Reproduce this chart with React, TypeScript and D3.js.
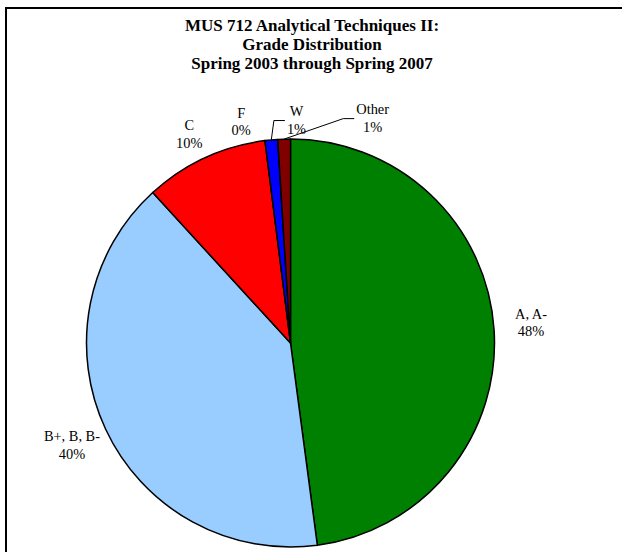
import React, { useEffect, useRef } from "react";
import * as d3 from "d3";

// grade categories and share of students (percent)
const categories = ["A, A-", "B+, B, B-", "C", "F", "W", "Other"];
const shares = [47.9, 40.3, 9.8, 0, 1.0, 1.0];
const colors = ["#008000", "#99ccff", "#ff0000", "#0000ff", "#0000ff", "#800000"];
const titleLines = [
  "MUS 712 Analytical Techniques II:",
  "Grade Distribution",
  "Spring 2003 through Spring 2007",
];

// labels that were dragged away from their slice in the original, plus leader lines
const labelNudge: Record<string, [number, number]> = {
  "A, A-": [7, -0.5],
  "B+, B, B-": [-6.5, 8],
  C: [-3, 8],
  F: [-20, 15.5],
  W: [28, 14.5],
  Other: [89.5, 13.5],
};
const withLeader = ["W", "Other"];

const W = 622;
const H = 552;
const cx = 290.5;
const cy = 343;
const R = 204;
const FONT = "'Liberation Serif', 'Times New Roman', serif";

export default function App() {
  const ref = useRef<SVGSVGElement>(null);

  useEffect(() => {
    const svg = d3.select(ref.current);
    svg.selectAll("*").remove();

    svg.append("rect")
      .attr("x", 6).attr("y", 8)
      .attr("width", 700).attr("height", 700)
      .attr("fill", "white")
      .attr("stroke", "black")
      .attr("stroke-width", 2);

    svg.append("text")
      .attr("text-anchor", "middle")
      .attr("font-family", FONT)
      .attr("font-weight", "bold")
      .attr("font-size", 17)
      .selectAll("tspan")
      .data(titleLines)
      .join("tspan")
        .attr("x", 312)
        .attr("y", (d, i) => 30.5 + i * 19)
        .text(d => d);

    const data = categories.map((c, i) => ({ name: c, value: shares[i], color: colors[i] }));
    const total = d3.sum(shares);
    const pie = d3.pie<any>().value(d => d.value).sort(null);
    const arcs = pie(data);
    const arc = d3.arc<any>().innerRadius(0).outerRadius(R);

    const g = svg.append("g").attr("transform", `translate(${cx},${cy})`);
    g.selectAll("path")
      .data(arcs.filter(a => a.data.value > 0))
      .join("path")
        .attr("d", arc)
        .attr("fill", d => d.data.color)
        .attr("stroke", "black")
        .attr("stroke-width", 1.5)
        .attr("stroke-linejoin", "round");

    const pct = d3.format(".0%");
    const labelR = R + 30;

    arcs.forEach(a => {
      const mid = (a.startAngle + a.endAngle) / 2;
      const [nx, ny] = labelNudge[a.data.name] || [0, 0];
      const lx = cx + labelR * Math.sin(mid) + nx;
      const ly = cy - labelR * Math.cos(mid) + ny;

      const t = svg.append("text")
        .attr("text-anchor", "middle")
        .attr("font-family", FONT)
        .attr("font-size", 14.4)
        .attr("fill", "black");
      const lines = [a.data.name, pct(a.data.value / total)];
      t.selectAll("tspan")
        .data(lines)
        .join("tspan")
          .attr("x", lx)
          .attr("y", (d, i) => ly - 8.5 + i * 17.5)
          .text(d => d);

      if (withLeader.includes(a.data.name)) {
        let maxW = 0;
        t.selectAll<SVGTSpanElement, string>("tspan").each(function () {
          maxW = Math.max(maxW, this.getComputedTextLength());
        });
        const x0 = lx - maxW / 2 - 2;
        const y0 = ly - 4;
        const px = cx + R * Math.sin(mid);
        const py = cy - R * Math.cos(mid);
        svg.append("polyline")
          .attr("points", `${x0},${y0} ${x0 - 11},${y0} ${px},${py}`)
          .attr("fill", "none")
          .attr("stroke", "black")
          .attr("stroke-width", 1);
      }
    });
  }, []);

  return (
    <div style={{ position: "absolute", left: 0, top: 0 }}>
      <svg ref={ref} width={W} height={H} style={{ display: "block", background: "white" }}></svg>
    </div>
  );
}
